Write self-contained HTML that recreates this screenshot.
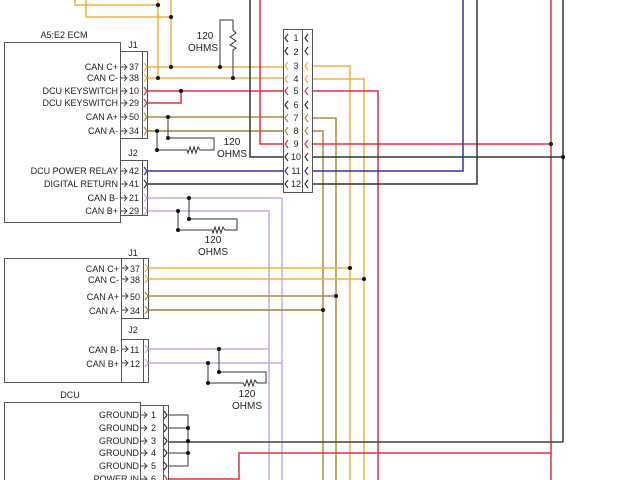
<!DOCTYPE html>
<html><head><meta charset="utf-8"><style>
html,body{margin:0;padding:0;background:#fff;width:640px;height:480px;overflow:hidden}
svg text{font-family:"Liberation Sans",sans-serif;font-size:9px;fill:#222}
</style></head><body>
<svg width="640" height="480" viewBox="0 0 640 480" xmlns="http://www.w3.org/2000/svg">
<g fill="none" stroke-width="1.5">
<path d="M75,0V5H158M86,0V17H171" stroke="#f0b040"/>
<path d="M158,0V78M171,0V67" stroke="#f0b040"/>
<path d="M147,67H283M147,78H283" stroke="#f0b040"/>
<path d="M303,66H350V480M303,79H364V480" stroke="#f0b040"/>
<path d="M147,91H283M147,103H181V91" stroke="#e03040"/>
<path d="M303,91H378V480" stroke="#e03040"/>
<path d="M147,117H283" stroke="#b08a40"/>
<path d="M147,131H283" stroke="#a07f38"/>
<path d="M303,118H336V480M303,131H323V480" stroke="#b08a40"/>
<path d="M260,0V144H283" stroke="#e03040"/>
<path d="M303,144H551M551,0V480" stroke="#e03040"/>
<path d="M250,0V157H283" stroke="#333"/>
<path d="M303,157H563M563,0V442" stroke="#333"/>
<path d="M147,171H283M303,171H463V0" stroke="#3030b0"/>
<path d="M147,184H283M303,184H477V0" stroke="#333"/>
<path d="M147,198H282V480M147,211H269V480" stroke="#c8a8e8"/>
<path d="M148,268H350M148,279H364" stroke="#f0b040"/>
<path d="M148,296H336" stroke="#b08a40"/>
<path d="M148,310H323" stroke="#a07f38"/>
<path d="M148,349H269M148,363H282" stroke="#c8a8e8"/>
<path d="M166,442H563" stroke="#444"/>
<path d="M168,479H239V453H551" stroke="#e03040"/>
</g>
<g fill="none" stroke="#333" stroke-width="1">
<path d="M220,67V20H233V30L236,33L230,37L236,41L230,45L236,48L233,50V78"/>
<path d="M168,117V138H214V150H200L198,147L196,153L194,147L192,153L190,147L188,153L187,150H157V131"/>
<path d="M189,198V219H237V230H225L223,227L221,233L219,227L217,233L215,227L213,233L212,230H178V211"/>
<path d="M219,349V372H266V383H257L255,380L253,386L251,380L249,386L247,380L245,386L243,383H208V363"/>
<path d="M166,415H188V466M166,428H188M166,453H188M166,466H188"/>
</g>
<g fill="#111">
<circle cx="158" cy="5" r="2"/><circle cx="171" cy="17" r="2"/><circle cx="158" cy="78" r="2"/><circle cx="171" cy="67" r="2"/>
<circle cx="220" cy="67" r="2"/><circle cx="233" cy="78" r="2"/><circle cx="181" cy="91" r="2"/>
<circle cx="168" cy="117" r="2"/><circle cx="168" cy="138" r="2"/><circle cx="157" cy="131" r="2"/><circle cx="157" cy="150" r="2"/>
<circle cx="551" cy="144" r="2"/><circle cx="563" cy="157" r="2"/>
<circle cx="189" cy="198" r="2"/><circle cx="189" cy="219" r="2"/><circle cx="178" cy="211" r="2"/><circle cx="178" cy="230" r="2"/>
<circle cx="350" cy="268" r="2"/><circle cx="364" cy="279" r="2"/><circle cx="336" cy="296" r="2"/><circle cx="323" cy="310" r="2"/>
<circle cx="219" cy="349" r="2"/><circle cx="219" cy="372" r="2"/><circle cx="208" cy="363" r="2"/><circle cx="208" cy="383" r="2"/>
<circle cx="188" cy="428" r="2"/><circle cx="188" cy="441" r="2"/><circle cx="188" cy="453" r="2"/>
</g>
<g fill="#fff" stroke="#555" stroke-width="1">
<rect x="4.5" y="42.5" width="116" height="180"/>
<rect x="120.5" y="51.5" width="27" height="87"/><line x1="142.5" y1="51.5" x2="142.5" y2="138.5"/>
<rect x="120.5" y="160.5" width="27" height="55"/><line x1="142.5" y1="160.5" x2="142.5" y2="215.5"/>
<rect x="283.5" y="29.5" width="29" height="163"/><line x1="302.5" y1="29.5" x2="302.5" y2="192.5"/>
<rect x="4.5" y="258.5" width="117" height="124"/>
<rect x="121.5" y="258.5" width="27" height="60"/><line x1="143.5" y1="258.5" x2="143.5" y2="318.5"/>
<rect x="121.5" y="339.5" width="27" height="43"/><line x1="143.5" y1="339.5" x2="143.5" y2="382.5"/>
<rect x="4.5" y="402.5" width="136" height="90"/>
<rect x="140.5" y="405.5" width="28" height="90"/><line x1="163.5" y1="405.5" x2="163.5" y2="495"/>
</g>
<g fill="none" stroke="#444" stroke-width="0.9">
<path d="M121,67h6M124,64l3,3l-3,3M121,78h6M124,75l3,3l-3,3M121,91h6M124,88l3,3l-3,3M121,103h6M124,100l3,3l-3,3M121,117h6M124,114l3,3l-3,3M121,131h6M124,128l3,3l-3,3"/>
<path d="M121,171h6M124,168l3,3l-3,3M121,184h6M124,181l3,3l-3,3M121,198h6M124,195l3,3l-3,3M121,211h6M124,208l3,3l-3,3"/>
<path d="M122,268h6M125,265l3,3l-3,3M122,279h6M125,276l3,3l-3,3M122,296h6M125,293l3,3l-3,3M122,310h6M125,307l3,3l-3,3M122,349h6M125,346l3,3l-3,3M122,363h6M125,360l3,3l-3,3"/>
<path d="M141,415h6M144,412l3,3l-3,3M141,428h6M144,425l3,3l-3,3M141,441h6M144,438l3,3l-3,3M141,453h6M144,450l3,3l-3,3M141,466h6M144,463l3,3l-3,3M141,479h6M144,476l3,3l-3,3"/>
</g>
<g fill="none" stroke-width="1.2">
<path d="M144,63l3,4l-3,4M144,74l3,4l-3,4" stroke="#f0b040"/>
<path d="M144,87l3,4l-3,4M144,99l3,4l-3,4" stroke="#e03040"/>
<path d="M144,113l3,4l-3,4M144,127l3,4l-3,4" stroke="#b08a40"/>
<path d="M144,167l3,4l-3,4" stroke="#3030b0"/><path d="M144,180l3,4l-3,4" stroke="#333"/>
<path d="M144,194l3,4l-3,4M144,207l3,4l-3,4" stroke="#c8a8e8"/>
<path d="M145,264l3,4l-3,4M145,275l3,4l-3,4" stroke="#f0b040"/>
<path d="M145,292l3,4l-3,4M145,306l3,4l-3,4" stroke="#b08a40"/>
<path d="M145,345l3,4l-3,4M145,359l3,4l-3,4" stroke="#c8a8e8"/>
<path d="M164,411l3,4l-3,4M164,424l3,4l-3,4M164,437l3,4l-3,4M164,449l3,4l-3,4M164,462l3,4l-3,4" stroke="#333"/>
<path d="M164,475l3,4l-3,4" stroke="#e03040"/>
<path d="M288,34l-3,4l3,4M288,47l-3,4l3,4M288,101l-3,4l3,4M308,34l-3,4l3,4M308,47l-3,4l3,4M308,101l-3,4l3,4" stroke="#333"/>
<path d="M288,62l-3,4l3,4M288,75l-3,4l3,4M308,62l-3,4l3,4M308,75l-3,4l3,4" stroke="#f0b040"/>
<path d="M288,87l-3,4l3,4M288,140l-3,4l3,4M308,87l-3,4l3,4M308,140l-3,4l3,4" stroke="#e03040"/>
<path d="M288,114l-3,4l3,4M288,127l-3,4l3,4M308,114l-3,4l3,4M308,127l-3,4l3,4" stroke="#b08a40"/>
<path d="M288,153l-3,4l3,4M288,180l-3,4l3,4M308,153l-3,4l3,4M308,180l-3,4l3,4" stroke="#333"/>
<path d="M288,167l-3,4l3,4M308,167l-3,4l3,4" stroke="#3030b0"/>
</g>
<text x="64" y="38" text-anchor="middle">A5:E2 ECM</text>
<text x="133" y="48" text-anchor="middle">J1</text>
<text x="133" y="156" text-anchor="middle">J2</text>
<g text-anchor="end">
<text x="118" y="70">CAN C+</text><text x="118" y="81">CAN C-</text>
<text x="118" y="94">DCU KEYSWITCH</text><text x="118" y="106">DCU KEYSWITCH</text>
<text x="118" y="120">CAN A+</text><text x="118" y="134">CAN A-</text>
<text x="118" y="174">DCU POWER RELAY</text><text x="118" y="187">DIGITAL RETURN</text>
<text x="118" y="201">CAN B-</text><text x="118" y="214">CAN B+</text>
<text x="119" y="272">CAN C+</text><text x="119" y="283">CAN C-</text>
<text x="119" y="300">CAN A+</text><text x="119" y="314">CAN A-</text>
<text x="119" y="353">CAN B-</text><text x="119" y="367">CAN B+</text>
<text x="139" y="418">GROUND</text><text x="139" y="431">GROUND</text><text x="139" y="444">GROUND</text>
<text x="139" y="456">GROUND</text><text x="139" y="469">GROUND</text><text x="139" y="482">POWER IN</text>
</g>
<g>
<text x="129" y="70">37</text><text x="129" y="81">38</text><text x="129" y="94">10</text><text x="129" y="106">29</text><text x="129" y="120">50</text><text x="129" y="134">34</text>
<text x="129" y="174">42</text><text x="129" y="187">41</text><text x="129" y="201">21</text><text x="129" y="214">29</text>
<text x="130" y="272">37</text><text x="130" y="283">38</text><text x="130" y="300">50</text><text x="130" y="314">34</text>
<text x="130" y="353">11</text><text x="130" y="367">12</text>
<text x="151" y="418">1</text><text x="151" y="431">2</text><text x="151" y="444">3</text><text x="151" y="456">4</text><text x="151" y="469">5</text><text x="151" y="482">6</text>
</g>
<g text-anchor="middle">
<text x="296" y="41">1</text><text x="296" y="55">2</text><text x="296" y="69">3</text><text x="296" y="82">4</text>
<text x="296" y="94">5</text><text x="296" y="108">6</text><text x="296" y="121">7</text><text x="296" y="134">8</text>
<text x="296" y="147">9</text><text x="296" y="160">10</text><text x="296" y="174">11</text><text x="296" y="187">12</text>
<text x="133" y="256">J1</text><text x="133" y="333">J2</text>
<text x="70" y="398">DCU</text>
</g>
<g text-anchor="middle" style="font-size:10px">
<text x="205" y="39" style="font-size:10px">120</text><text x="203" y="51" style="font-size:10px">OHMS</text>
<text x="232" y="145" style="font-size:10px">120</text><text x="232" y="157" style="font-size:10px">OHMS</text>
<text x="213" y="243" style="font-size:10px">120</text><text x="213" y="255" style="font-size:10px">OHMS</text>
<text x="247" y="397" style="font-size:10px">120</text><text x="247" y="409" style="font-size:10px">OHMS</text>
</g>
</svg>
</body></html>
